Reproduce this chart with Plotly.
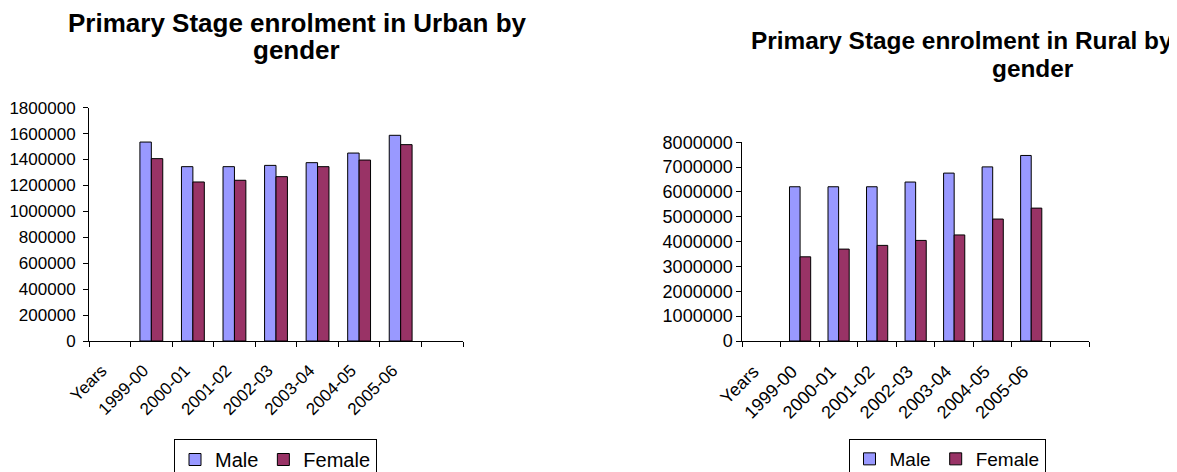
import plotly.graph_objects as go

categories = ["Years", "1999-00", "2000-01", "2001-02", "2002-03", "2003-04", "2004-05", "2005-06", " "]
urban_male = [None, 1535000, 1345000, 1345000, 1355000, 1376000, 1450000, 1587000, None]
urban_female = [None, 1407000, 1227000, 1240000, 1268000, 1345000, 1396000, 1515000, None]
rural_male = [None, 6210000, 6210000, 6210000, 6400000, 6760000, 7010000, 7470000, None]
rural_female = [None, 3390000, 3700000, 3850000, 4050000, 4270000, 4910000, 5350000, None]

title_urban = ["Primary Stage enrolment in Urban by", "gender"]
title_rural = ["Primary Stage enrolment in Rural by", "gender"]

MALE_C = "#9999FF"
FEMALE_C = "#993366"
FONT = "Liberation Sans, Arial, sans-serif"
OFF = 8  # page body margin
W, H = 1177 - OFF, 472 - OFF


def px(x):
    return (x - OFF) / W


def py(y):
    return 1 - (y - OFF) / H


fig = go.Figure()
bar_line = dict(color="black", width=1)
fig.add_trace(go.Bar(x=categories, y=urban_male, name="Male", marker=dict(color=MALE_C, line=bar_line),
                     xaxis="x", yaxis="y", legend="legend"))
fig.add_trace(go.Bar(x=categories, y=urban_female, name="Female", marker=dict(color=FEMALE_C, line=bar_line),
                     xaxis="x", yaxis="y", legend="legend"))
fig.add_trace(go.Bar(x=categories, y=rural_male, name="Male", marker=dict(color=MALE_C, line=bar_line),
                     xaxis="x2", yaxis="y2", legend="legend2"))
fig.add_trace(go.Bar(x=categories, y=rural_female, name="Female", marker=dict(color=FEMALE_C, line=bar_line),
                     xaxis="x2", yaxis="y2", legend="legend2"))


def xax(domain, anchor, size):
    return dict(domain=domain, anchor=anchor, type="category", categoryorder="array",
                categoryarray=categories, range=[-0.5, len(categories) - 0.5],
                showline=True, linecolor="black", linewidth=1, ticks="outside", ticklen=5,
                tickcolor="black", tickson="boundaries", tickangle=-45, showgrid=False,
                ticklabelstandoff=12, ticklabelshift=-8,
                tickfont=dict(family=FONT, size=size, color="black"), zeroline=False,
                fixedrange=True, automargin=False)


def yax(domain, anchor, rng, dtick, size, standoff):
    return dict(domain=domain, anchor=anchor, range=rng, dtick=dtick, tickformat="d",
                showline=True, linecolor="black", linewidth=1, ticks="outside", ticklen=5,
                tickcolor="black", showgrid=False, zeroline=False, ticklabelstandoff=standoff,
                tickfont=dict(family=FONT, size=size, color="black"), fixedrange=True,
                automargin=False)


fig.update_layout(
    width=W, height=H,
    margin=dict(l=0, r=0, t=0, b=0, autoexpand=False),
    paper_bgcolor="white", plot_bgcolor="white",
    barmode="group", bargap=0.45, bargroupgap=0,
    xaxis=xax([px(89), px(463)], "y", 17),
    yaxis=yax([py(341), py(107.7)], "x", [0, 1800000], 200000, 17, 4),
    xaxis2=xax([px(742.3), px(1089)], "y2", 18),
    yaxis2=yax([py(341), py(142.3)], "x2", [0, 8000000], 1000000, 18, 0),
    legend=dict(orientation="h", x=px(275.5), xanchor="center", y=py(439), yanchor="top",
                bordercolor="black", borderwidth=1, itemwidth=30,
                font=dict(family=FONT, size=20, color="black")),
    legend2=dict(orientation="h", x=px(947), xanchor="center", y=py(439), yanchor="top",
                 bordercolor="black", borderwidth=1, itemwidth=30,
                 font=dict(family=FONT, size=19, color="black")),
    showlegend=True,
)


def title_line(text, cx, cy, size):
    fig.add_annotation(text="<b>" + text + "</b>", xref="paper", yref="paper",
                       x=px(cx), y=py(cy), xanchor="center", yanchor="middle", borderpad=0,
                       showarrow=False, font=dict(family=FONT, size=size, color="black"))


title_line(title_urban[0], 297, 23.3, 26)
title_line(title_urban[1], 296, 50.3, 26)
title_line(title_rural[0], 962, 40.8, 24.4)
title_line(title_rural[1], 1033, 68.5, 24.4)

fig.write_html("out.html")
